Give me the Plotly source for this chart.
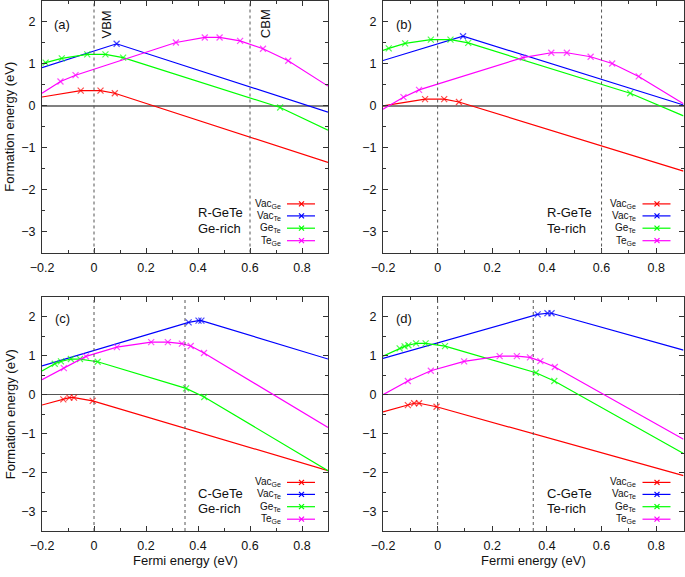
import plotly.graph_objects as go

# ---------------- data ----------------
# Panel (a): R-GeTe, Ge-rich
A_VACGE_X = [-0.2, -0.051, 0.025, 0.080, 0.9]
A_VACGE_Y = [0.21, 0.36, 0.36, 0.30, -1.35]
A_VACTE_X = [-0.2, 0.087, 0.9]
A_VACTE_Y = [0.91, 1.48, -0.15]
A_GETE_X = [-0.2, -0.186, -0.124, -0.026, 0.044, 0.112, 0.716, 0.9]
A_GETE_Y = [1.00, 1.03, 1.13, 1.225, 1.225, 1.15, -0.04, -0.58]
A_TEGE_X = [-0.2, -0.129, -0.071, 0.315, 0.426, 0.483, 0.562, 0.650, 0.747, 0.9]
A_TEGE_Y = [0.30, 0.58, 0.73, 1.51, 1.63, 1.63, 1.55, 1.36, 1.075, 0.47]

# Panel (b): R-GeTe, Te-rich
B_VACGE_X = [-0.2, -0.046, 0.024, 0.078, 0.9]
B_VACGE_Y = [0.0, 0.16, 0.16, 0.09, -1.56]
B_VACTE_X = [-0.2, 0.093, 0.9]
B_VACTE_Y = [1.08, 1.66, 0.02]
B_GETE_X = [-0.2, -0.179, -0.119, -0.025, 0.047, 0.112, 0.705, 0.9]
B_GETE_Y = [1.32, 1.37, 1.49, 1.58, 1.58, 1.50, 0.30, -0.24]
B_TEGE_X = [-0.2, -0.125, -0.068, 0.312, 0.416, 0.473, 0.560, 0.639, 0.736, 0.9]
B_TEGE_Y = [-0.08, 0.205, 0.38, 1.15, 1.265, 1.265, 1.17, 1.01, 0.70, 0.05]

# Panel (c): C-GeTe, Ge-rich
C_VACGE_X = [-0.2, -0.118, -0.095, -0.077, -0.005, 0.9]
C_VACGE_Y = [-0.265, -0.12, -0.077, -0.077, -0.16, -1.95]
C_VACTE_X = [-0.2, 0.364, 0.402, 0.413, 0.9]
C_VACTE_Y = [0.74, 1.855, 1.90, 1.90, 0.915]
C_GETE_X = [-0.2, -0.151, -0.127, -0.089, -0.054, 0.014, 0.354, 0.424, 0.9]
C_GETE_Y = [0.607, 0.795, 0.855, 0.915, 0.915, 0.846, 0.162, -0.06, -1.95]
C_TEGE_X = [-0.2, -0.116, -0.031, 0.088, 0.220, 0.284, 0.338, 0.372, 0.423, 0.9]
C_TEGE_Y = [0.385, 0.68, 0.983, 1.22, 1.35, 1.35, 1.31, 1.25, 1.07, -0.84]

# Panel (d): C-GeTe, Te-rich
D_VACGE_X = [-0.2, -0.109, -0.086, -0.068, -0.004, 0.9]
D_VACGE_Y = [-0.444, -0.27, -0.22, -0.22, -0.31, -2.08]
D_VACTE_X = [-0.2, 0.366, 0.402, 0.417, 0.9]
D_VACTE_Y = [0.93, 2.06, 2.09, 2.09, 1.145]
D_GETE_X = [-0.2, -0.139, -0.121, -0.107, -0.079, -0.044, 0.027, 0.360, 0.427, 0.9]
D_GETE_Y = [0.99, 1.19, 1.24, 1.27, 1.316, 1.316, 1.248, 0.564, 0.35, -1.51]
D_TEGE_X = [-0.2, -0.109, -0.025, 0.097, 0.227, 0.290, 0.338, 0.376, 0.429, 0.9]
D_TEGE_Y = [0.0, 0.35, 0.615, 0.855, 0.99, 0.99, 0.957, 0.863, 0.71, -1.145]

SERIES_NAMES = ["Vac<sub>Ge</sub>", "Vac<sub>Te</sub>", "Ge<sub>Te</sub>", "Te<sub>Ge</sub>"]
SERIES_COLORS = ["#ff0000", "#0000ff", "#00ff00", "#ff00ff"]

PANEL_LABELS = ["(a)", "(b)", "(c)", "(d)"]
PHASES = ["R-GeTe", "R-GeTe", "C-GeTe", "C-GeTe"]
CONDITIONS = ["Ge-rich", "Te-rich", "Ge-rich", "Te-rich"]
VBM = [0.0, 0.0, 0.0, 0.0]
CBM = [0.6, 0.6, 0.35, 0.35]

X_TITLE = "Fermi energy (eV)"
Y_TITLE = "Formation energy (eV)"

PANEL_DATA = [
    [(A_VACGE_X, A_VACGE_Y), (A_VACTE_X, A_VACTE_Y), (A_GETE_X, A_GETE_Y), (A_TEGE_X, A_TEGE_Y)],
    [(B_VACGE_X, B_VACGE_Y), (B_VACTE_X, B_VACTE_Y), (B_GETE_X, B_GETE_Y), (B_TEGE_X, B_TEGE_Y)],
    [(C_VACGE_X, C_VACGE_Y), (C_VACTE_X, C_VACTE_Y), (C_GETE_X, C_GETE_Y), (C_TEGE_X, C_TEGE_Y)],
    [(D_VACGE_X, D_VACGE_Y), (D_VACTE_X, D_VACTE_Y), (D_GETE_X, D_GETE_Y), (D_TEGE_X, D_TEGE_Y)],
]

# ---------------- layout geometry ----------------
W, H = 685, 577
XDOM = [[42 / W, 328 / W], [383 / W, 683.5 / W], [42 / W, 328 / W], [383 / W, 683.5 / W]]
TOP_DOM = [1 - 252.5 / H, 1 - 1 / H]
BOT_DOM = [1 - 531 / H, 1 - 297.3 / H]
YDOM = [TOP_DOM, TOP_DOM, BOT_DOM, BOT_DOM]

FONT = "Liberation Sans, Arial, Helvetica, sans-serif"
AXC = "#333333"
TXT = "#111111"

fig = go.Figure()
shapes = []
annotations = []

for p in range(4):
    sfx = "" if p == 0 else str(p + 1)
    xr, yr = "x" + sfx, "y" + sfx
    for s, (xs, ys) in enumerate(PANEL_DATA[p]):
        sizes = [0] + [6] * (len(xs) - 2) + [0]
        fig.add_trace(go.Scatter(
            x=xs, y=ys, mode="lines+markers", xaxis=xr, yaxis=yr,
            line=dict(color=SERIES_COLORS[s], width=1.2),
            marker=dict(symbol="x-thin", size=sizes,
                        line=dict(color=SERIES_COLORS[s], width=1.2)),
            showlegend=False, hoverinfo="skip"))

    top = p < 2
    fig.layout["xaxis" + sfx] = dict(
        domain=XDOM[p], anchor=yr, range=[-0.2, 0.9], tick0=0, dtick=0.2,
        automargin=False,
        showline=True, linecolor=AXC, linewidth=1, mirror="ticks",
        ticks="inside", ticklen=5, tickcolor=AXC, tickwidth=1,
        minor=dict(dtick=0.1, ticks="inside", ticklen=3, tickcolor=AXC, tickwidth=1),
        showgrid=False, zeroline=False,
        tickfont=dict(family=FONT, size=12.5, color=TXT),
        ticklabelstandoff=3)
    fig.layout["yaxis" + sfx] = dict(
        domain=YDOM[p], anchor=xr, range=[-3.5, 2.5], tick0=0, dtick=1,
        automargin=False,
        showline=True, linecolor=AXC, linewidth=1, mirror="ticks",
        ticks="inside", ticklen=5, tickcolor=AXC, tickwidth=1,
        minor=dict(dtick=0.5, ticks="inside", ticklen=3, tickcolor=AXC, tickwidth=1),
        showgrid=False, zeroline=True,
        zerolinecolor="#808080" if top else "#555555",
        zerolinewidth=2 if top else 1.2,
        tickfont=dict(family=FONT, size=12.5, color=TXT),
        ticklabelstandoff=3)

    # VBM / CBM dotted lines
    for xv in (VBM[p], CBM[p]):
        shapes.append(dict(type="line", xref=xr, yref=yr + " domain", x0=xv, x1=xv,
                           y0=0, y1=1, line=dict(color="#555555", width=1, dash="dot"),
                           layer="above"))

    # panel label
    annotations.append(dict(xref=xr, yref=yr, x=-0.122, y=1.95, text=PANEL_LABELS[p],
                            showarrow=False, font=dict(family=FONT, size=13, color=TXT),
                            xanchor="center", yanchor="middle"))
    # phase / condition labels
    annotations.append(dict(xref=xr, yref=yr, x=0.392, y=-2.54, text=PHASES[p],
                            showarrow=False, font=dict(family=FONT, size=13, color=TXT),
                            xanchor="left", yanchor="middle"))
    annotations.append(dict(xref=xr, yref=yr, x=0.392, y=-2.93, text=CONDITIONS[p],
                            showarrow=False, font=dict(family=FONT, size=13, color=TXT),
                            xanchor="left", yanchor="middle"))

    # custom key (text left of sample, gnuplot style)
    rows = [48.6, 36.6, 24.3, 11.8]
    for s in range(4):
        r = rows[s]
        c = SERIES_COLORS[s]
        annotations.append(dict(xref=xr + " domain", yref=yr + " domain", x=1, y=0,
                                xshift=-45.5, yshift=r, text=SERIES_NAMES[s],
                                showarrow=False, xanchor="right", yanchor="middle",
                                font=dict(family=FONT, size=10, color=TXT)))
        shapes.append(dict(type="line", xref=xr + " domain", yref=yr + " domain",
                           xsizemode="pixel", ysizemode="pixel", xanchor=1, yanchor=0,
                           x0=-41, x1=-13, y0=r, y1=r, line=dict(color=c, width=1.2)))
        for d in (1, -1):
            shapes.append(dict(type="line", xref=xr + " domain", yref=yr + " domain",
                               xsizemode="pixel", ysizemode="pixel", xanchor=1, yanchor=0,
                               x0=-29, x1=-24, y0=r - 2.5 * d, y1=r + 2.5 * d,
                               line=dict(color=c, width=1.2)))

    if p == 0:
        annotations.append(dict(xref=xr, yref=yr, x=0.048, y=1.95, text="VBM", textangle=-90,
                                showarrow=False, font=dict(family=FONT, size=13, color=TXT)))
        annotations.append(dict(xref=xr, yref=yr, x=0.658, y=1.95, text="CBM", textangle=-90,
                                showarrow=False, font=dict(family=FONT, size=13, color=TXT)))

# axis titles
for p in (0, 2):
    sfx = "" if p == 0 else str(p + 1)
    annotations.append(dict(xref="paper", yref="y" + sfx + " domain", x=10 / W, y=0.5,
                            text=Y_TITLE, textangle=-90, showarrow=False,
                            xanchor="center", yanchor="middle",
                            font=dict(family=FONT, size=13, color=TXT)))
for p in (2, 3):
    sfx = str(p + 1)
    annotations.append(dict(xref="x" + sfx + " domain", yref="paper", x=0.5, y=1 - 560 / H,
                            text=X_TITLE, showarrow=False, xanchor="center", yanchor="middle",
                            font=dict(family=FONT, size=13, color=TXT)))

fig.update_layout(
    template="none",
    width=W, height=H, margin=dict(l=0, r=0, t=0, b=0, autoexpand=False),
    paper_bgcolor="white", plot_bgcolor="white",
    shapes=shapes, annotations=annotations, showlegend=False,
    font=dict(family=FONT, color=TXT))

fig.write_html("out.html", config={"displayModeBar": False},
               post_script="document.body.style.margin='0';")
